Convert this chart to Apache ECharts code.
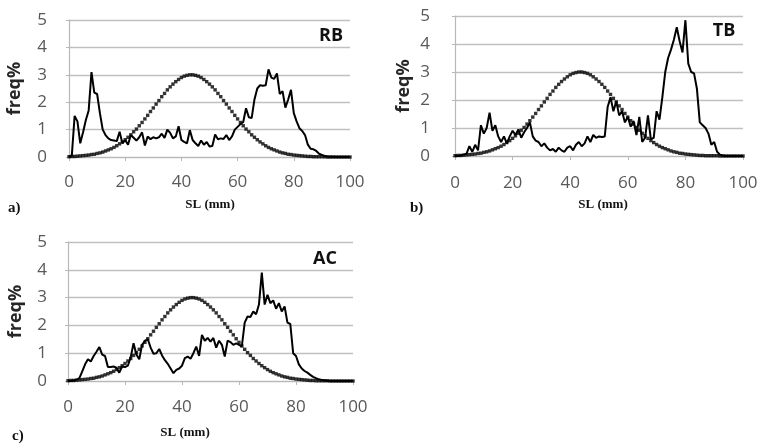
<!DOCTYPE html>
<html>
<head>
<meta charset="utf-8">
<script src="https://cdn.jsdelivr.net/npm/echarts@6/dist/echarts.min.js"></script>
<style>html,body{margin:0;padding:0;background:#fff;}#c{width:762px;height:445px;}</style>
</head>
<body>
<div id="c"></div>
<script>
// Shell length classes (mm)
const SL = [0,1,2,3,4,5,6,7,8,9,10,11,12,13,14,15,16,17,18,19,20,21,22,23,24,25,26,27,28,29,30,31,32,33,34,35,36,37,38,39,40,41,42,43,44,45,46,47,48,49,50,51,52,53,54,55,56,57,58,59,60,61,62,63,64,65,66,67,68,69,70,71,72,73,74,75,76,77,78,79,80,81,82,83,84,85,86,87,88,89,90,91,92,93,94,95,96,97,98,99,100];
const xTicks = [0,20,40,60,80,100];
const yTicks = [0,1,2,3,4,5];

// Reference (dotted) curve
const REF = [0.01,0.02,0.02,0.03,0.04,0.05,0.06,0.07,0.09,0.10,0.13,0.15,0.18,0.22,0.26,0.30,0.35,0.41,0.48,0.55,0.63,0.72,0.81,0.92,1.02,1.14,1.26,1.39,1.52,1.66,1.79,1.93,2.06,2.20,2.32,2.45,2.56,2.66,2.75,2.83,2.90,2.95,2.98,3.00,3.00,2.98,2.95,2.90,2.83,2.75,2.66,2.56,2.45,2.32,2.20,2.06,1.93,1.79,1.66,1.52,1.39,1.26,1.14,1.02,0.92,0.81,0.72,0.63,0.55,0.48,0.41,0.35,0.30,0.26,0.22,0.18,0.15,0.13,0.10,0.09,0.07,0.06,0.05,0.04,0.03,0.02,0.02,0.01,0.01,0.01,0.01,0.01,0.00,0.00,0.00,0.00,0.00,0.00,0.00,0.00,0.00];

// Panel a) RB
const RB = [0,0.05,1.5,1.3,0.5,0.9,1.35,1.7,3.1,2.35,2.3,1.6,1.0,0.8,0.68,0.62,0.6,0.58,0.92,0.5,0.62,0.45,0.8,0.7,0.6,0.72,0.9,0.42,0.75,0.65,0.72,0.68,0.72,0.85,0.7,1.0,0.88,0.68,0.75,1.12,0.62,0.55,0.5,0.98,0.62,0.5,0.4,0.6,0.45,0.55,0.38,0.4,0.82,0.65,0.68,0.66,0.8,0.62,0.75,1.0,1.1,1.2,1.28,1.78,1.45,1.42,2.1,2.5,2.62,2.6,2.62,3.2,2.9,2.85,3.05,2.3,2.4,1.8,2.1,2.45,1.6,1.3,1.05,0.95,0.8,0.45,0.3,0.28,0.22,0.12,0.08,0.04,0.02,0.01,0.01,0,0,0,0,0,0];

// Panel b) TB
const TB = [0,0,0.02,0.05,0.08,0.35,0.15,0.4,0.2,1.1,0.8,1.0,1.55,0.9,1.1,0.7,0.5,0.7,0.45,0.7,0.9,0.75,0.95,0.65,0.85,1.0,1.2,0.7,0.55,0.5,0.35,0.45,0.3,0.2,0.25,0.15,0.3,0.2,0.15,0.3,0.35,0.2,0.4,0.5,0.35,0.45,0.7,0.5,0.75,0.65,0.7,0.68,0.7,1.75,2.1,1.6,1.95,1.45,1.6,1.2,1.4,1.05,1.25,0.75,1.4,0.5,0.65,1.45,0.6,0.65,1.6,1.3,2.1,3.0,3.5,3.8,4.15,4.6,4.1,3.7,4.85,3.3,3.0,2.95,2.4,1.2,1.1,1.0,0.8,0.4,0.5,0.15,0.05,0.02,0,0,0,0,0,0,0];

// Panel c) AC
const AC = [0,0,0.02,0.05,0.1,0.35,0.6,0.78,0.7,0.9,1.05,1.22,0.95,0.9,0.5,0.5,0.52,0.48,0.3,0.52,0.5,0.55,0.85,1.36,0.95,0.78,1.3,1.45,1.5,1.2,0.98,1.0,1.15,0.92,0.75,0.62,0.45,0.28,0.4,0.45,0.55,0.82,0.88,0.8,1.0,1.24,0.9,1.66,1.45,1.55,1.42,1.55,1.2,1.45,1.3,0.88,1.45,1.4,1.3,1.35,1.3,1.25,2.1,2.32,2.3,2.5,2.4,2.75,3.9,2.75,3.1,2.8,2.9,2.6,2.8,2.5,2.68,2.1,2.05,1.0,0.9,0.6,0.45,0.36,0.3,0.22,0.15,0.1,0.06,0.04,0.02,0,0,0,0,0,0,0,0,0,0];

const panels = [
  {name:'RB', data:RB, grid:{left:69, top:20, width:281, height:137}, yLabMargin:22, xLabMargin:17, nameGap:45},
  {name:'TB', data:TB, grid:{left:455, top:16, width:288, height:140}, yLabMargin:25, xLabMargin:19, nameGap:42},
  {name:'AC', data:AC, grid:{left:68, top:242, width:285, height:139}, yLabMargin:21, xLabMargin:18, nameGap:43}
];

const labelFont = '"Open Sans", "Liberation Sans", sans-serif';
const grids = [], xAxes = [], yAxes = [], series = [];
panels.forEach((p, i) => {
  grids.push(p.grid);
  xAxes.push({
    type:'value', gridIndex:i, min:0, max:100, interval:20,
    axisLine:{show:true, onZero:false, lineStyle:{color:'#b8b8b8', width:1.2}},
    axisTick:{show:true, length:4, lineStyle:{color:'#b8b8b8'}},
    splitLine:{show:false},
    axisLabel:{color:'#595959', fontSize:17, fontFamily:labelFont, margin:p.xLabMargin,
      formatter: v => xTicks.includes(v) ? String(v) : ''}
  });
  yAxes.push({
    type:'value', gridIndex:i, min:0, max:5, interval:1,
    name:'freq%', nameLocation:'middle', nameRotate:90, nameGap:p.nameGap,
    nameTextStyle:{color:'#262626', fontSize:18, fontWeight:'bold', fontFamily:labelFont},
    axisLine:{show:true, lineStyle:{color:'#b8b8b8', width:1.2}},
    axisTick:{show:true, length:3, lineStyle:{color:'#b8b8b8'}},
    splitLine:{show:true, lineStyle:{color:'#c0c0c0', width:1.4}},
    axisLabel:{color:'#595959', fontSize:17, fontFamily:labelFont, margin:p.yLabMargin,
      formatter: v => yTicks.includes(v) ? String(v) : ''}
  });
  series.push({
    type:'scatter', xAxisIndex:i, yAxisIndex:i, symbol:'rect', symbolSize:3.4,
    itemStyle:{color:'#000'}, silent:true, animation:false,
    data: SL.map((x, k) => [x, REF[k]])
  });
  series.push({
    type:'line', xAxisIndex:i, yAxisIndex:i, showSymbol:false, symbol:'none',
    lineStyle:{color:'#000', width:2}, silent:true, animation:false,
    data: SL.map((x, k) => [x, p.data[k]])
  });
});

const serif = '"Liberation Serif", "DejaVu Serif", serif';
function txt(x, y, s, font, size, align) {
  return {type:'text', x:x, y:y, style:{text:s, fill:'#111', font:'bold ' + size + 'px ' + font,
    textAlign:align || 'center', textVerticalAlign:'middle'}};
}
const graphics = [
  txt(331, 36, 'RB', labelFont, 18),
  txt(724, 31, 'TB', labelFont, 18),
  txt(325, 259, 'AC', labelFont, 18),
  txt(8, 208, 'a)', serif, 15, 'left'),
  txt(210, 205, 'SL (mm)', serif, 13),
  txt(410, 208, 'b)', serif, 15, 'left'),
  txt(603, 205, 'SL (mm)', serif, 13),
  txt(12, 436, 'c)', serif, 15, 'left'),
  txt(185, 433, 'SL (mm)', serif, 13)
];

const chart = echarts.init(document.getElementById('c'), null, {renderer:'canvas'});
chart.setOption({
  animation:false,
  backgroundColor:'#fff',
  grid:grids, xAxis:xAxes, yAxis:yAxes, series:series,
  graphic:graphics
});
</script>
</body>
</html>
